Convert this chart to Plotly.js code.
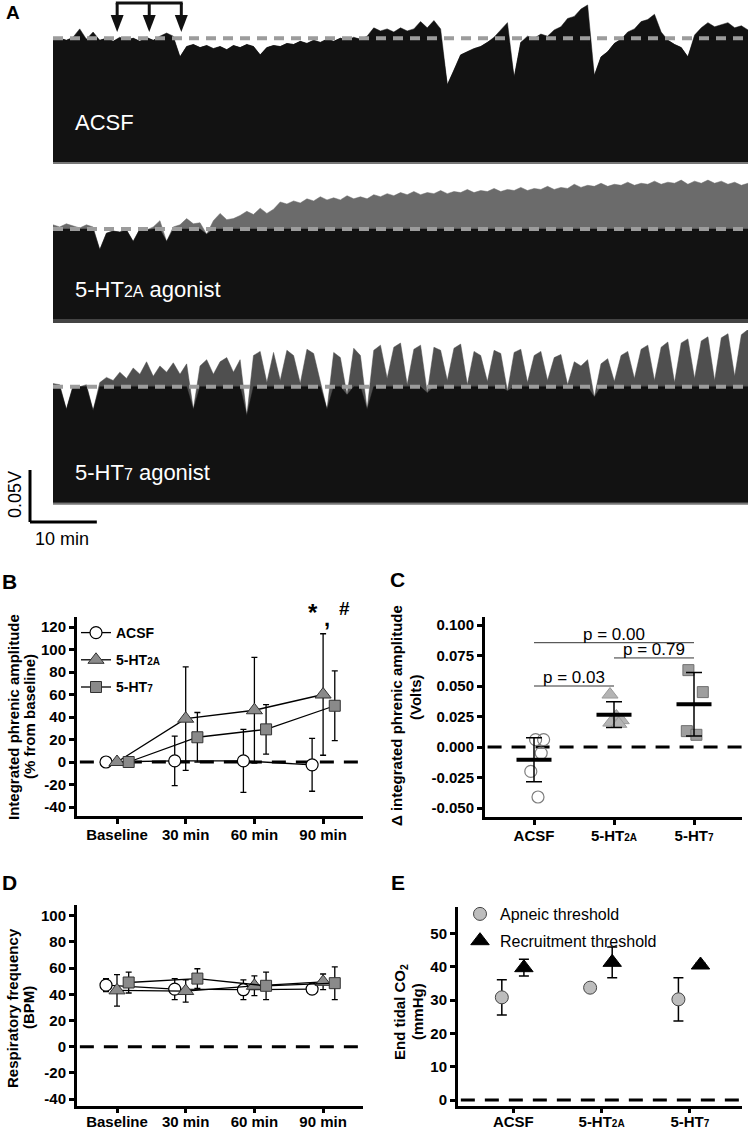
<!DOCTYPE html>
<html>
<head>
<meta charset="utf-8">
<script src="https://cdn.plot.ly/plotly-3.0.1.min.js"></script>
<style>
  body { margin: 0; background: #fff; }
  #fig { width: 750px; height: 1131px; }
</style>
</head>
<body>
<div id="fig"></div>
<script>
// ---------- panel A: integrated phrenic traces ----------
// upper envelope, mV above (+) or below (-) the dashed baseline, one sample per minute
var ACSF_DEV = [-1, 0, -2, 1, 9, -1, 6, -2, 0, -3, 1, -2, 0, -3, 1, -2, 2, 5, 2,
  -18, -8, -6, -9, -7, -10, -8, -11, -7, -9, -6, -8, -16,
  -9, -7, -8, -5, -6, -3, -5, -2, -4, -1, -3, 0, -2, 1, -1, 2, 10,
  7, 9, 6, 10, 7, 9, 16, 10, 17, 9,
  -45, -31, -16, -13, -10, -8, -4, 1, 8, 15,
  -38, -4, 2, 0, 4, 2, 8, 11, 19, 21, 28, 32,
  -36, -18, -13, -5, -1, 6, 9, 16, 18, 23, 6, -2, -6, -9, -18,
  3, 10, 15, 11, 13, 15, 10, 12, 8];
var HT2A_DEV = [4, 2, 5, 3, 1, 4, 2, -20, -4, -2, -3, -1, -12,
  0, -1, 2, 8, -12, 2, 4, 10, 5, 6, -5, 8,
  15, 9, 10, 13, 17, 14, 20, 15, 19, 26, 24, 27, 25, 29, 27, 31, 28, 30, 28, 32, 29, 31, 29, 33,
  31, 34, 32, 35, 33, 36, 33, 35, 34, 37, 34, 36, 35, 38, 35, 37, 36, 39, 36, 38,
  37, 40, 37, 39, 38, 41, 38, 40, 39, 43, 40, 42, 41, 44, 41, 43, 42, 45, 42, 44,
  43, 46, 43, 45, 44, 47, 43, 46, 44, 47, 44, 46, 43, 45, 42, 44];
var HT7_DEV = [3, 2, -22, 1, 0, 2, -23, 4, 9, 6, 14, 8, 18, 12, 24, 10, 20, 14, 23, 12,
  22, -22, 20, 26, 12, 24, 28, 14, 26, -28, 30, 34, 4, 33, 6, 35, 30, 3, 36, 32,
  5, -22, 33, 28, -8, 37, 30, -22, 35,
  40, 8, 38, 42, 2, 36, 40, -6, 38, 35, 6, 37, 41, 2, 34, 30, 5, 35, 32, -4,
  33, 36, 4, 30, 34, 6, 28, 31, 2, 24, 20, 26, -10, 22, 27, 5, 30, 34, 8, 36,
  40, 6, 38, 43, 4, 42, 46, 8, 44, 48, 6, 47, 51, 10, 50, 55];
var TRACE_BASE_MV = [119, 87.5, 111.5];      // dashed baseline height above trace floor
var TRACE_LABELS = ['ACSF', '5-HT<span style="font-size:16px">2A</span> agonist',
                    '5-HT<span style="font-size:16px">7</span> agonist'];
var INJECTIONS_MIN = [9.6, 14.4, 19.2];
var SCALE_MV = 50, SCALE_MIN = 10;

// ---------- panel B / D: time course ----------
var TIMEPOINTS = ['Baseline', '30 min', '60 min', '90 min'];
var B_ACSF = [0, 1, 1, -2.5],     B_ACSF_ERR = [0, 22, 28, 23.5];
var B_HT2A = [0, 38.5, 46, 60],   B_HT2A_ERR = [0, 46, 47, 54];
var B_HT7  = [0, 22, 29, 50],     B_HT7_ERR  = [0, 22, 22, 31];
var B_YTICKS = [-40, -20, 0, 20, 40, 60, 80, 100, 120];

var D_ACSF = [47, 44, 43.5, 44],  D_ACSF_ERR = [5, 8, 7.5, 4];
var D_HT2A = [43, 42.5, 46.5, 49.5], D_HT2A_ERR = [12, 8.5, 7.5, 6];
var D_HT7  = [49, 52, 46.5, 48.5], D_HT7_ERR = [8, 7.5, 10.5, 12.5];
var D_YTICKS = [-40, -20, 0, 20, 40, 60, 80, 100];

// ---------- panel C: individual animals ----------
var GROUPS = ['ACSF', '5-HT<span style="font-size:10px">2A</span>', '5-HT<span style="font-size:10px">7</span>'];
var C_ACSF = [0.006, 0.006, -0.005, -0.020, -0.041], C_ACSF_JIT = [0.02, 0.12, 0.09, -0.04, 0.05];
var C_HT2A = [0.043, 0.025, 0.022, 0.020, 0.019],    C_HT2A_JIT = [-0.05, 0.03, 0.09, -0.04, 0.06];
var C_HT7  = [0.063, 0.045, 0.013, 0.010],           C_HT7_JIT  = [-0.07, 0.11, -0.09, 0.03];
var C_MEAN = [-0.0105, 0.0265, 0.035];
var C_SD   = [0.018, 0.0105, 0.026];
var C_YTICKS = [-0.05, -0.025, 0, 0.025, 0.05, 0.075, 0.1];
var C_YTEXT  = ['-0.050', '-0.025', '0.000', '0.025', '0.050', '0.075', '0.100'];
var P_LABELS = ['p = 0.03', 'p = 0.00', 'p = 0.79'];
var P_PAIRS  = [[0, 1], [0, 2], [1, 2]];
var P_LEVEL  = [0.050, 0.0855, 0.073];

// ---------- panel E: CO2 thresholds ----------
var E_APNEIC = [30.8, 33.7, 30.2],  E_APNEIC_ERR = [5.3, 0.8, 6.5];
var E_RECRUIT = [39.7, 41.3, 40.5], E_RECRUIT_ERR = [2.5, 4.6, 0.5];
var E_YTICKS = [0, 10, 20, 30, 40, 50];

// ---------- helpers ----------
var W = 750, H = 1131;
var FONT = 'Liberation Sans, Arial, sans-serif';
function xd(l, r) { return [l / W, r / W]; }
function yd(t, b) { return [1 - b / H, 1 - t / H]; }
function xr(l, r, zero, k) { return [(l - zero) / k, (r - zero) / k]; }
function yr(t, b, zero, k) { return [(zero - b) / k, (zero - t) / k]; }
function yp(p) { return 1 - p / H; }

function ann(text, x, y, o) {
    return Object.assign({text: text, x: x / W, y: yp(y), xref: 'paper', yref: 'paper',
        showarrow: false, xanchor: 'center', yanchor: 'middle',
        font: {family: FONT, size: 15, color: '#000', weight: 'bold'}}, o || {});
}

function axis(o) {
    return Object.assign({showline: true, linecolor: '#000', linewidth: 3, ticks: 'outside',
        ticklen: 5, tickwidth: 3, tickcolor: '#000', showgrid: false, zeroline: false,
        fixedrange: true, tickfont: {family: FONT, size: 15, color: '#000', weight: 'bold'}}, o);
}

var traces = [];
var shapes = [];
var annotations = [];

// panel A
var aX = xr(0, 748, 53, 6.683);
var aFill = ['#121212', '#6b6b6b', '#4f4f4f'];
[ACSF_DEV, HT2A_DEV, HT7_DEV].forEach(function (dev, i) {
    var sfx = i === 0 ? '' : String(i + 1);
    var t = dev.map(function (_, j) { return j; });
    var base = TRACE_BASE_MV[i];
    traces.push({type: 'scatter', mode: 'lines', x: t, y: dev.map(function (d) { return base + d; }),
        fill: 'tozeroy', fillcolor: aFill[i], line: {width: 0.5, color: aFill[i]},
        xaxis: 'x' + sfx, yaxis: 'y' + sfx, showlegend: false, hoverinfo: 'skip'});
    traces.push({type: 'scatter', mode: 'lines', x: t, y: dev.map(function (d) { return base + Math.min(d, 0); }),
        fill: 'tozeroy', fillcolor: '#121212', line: {width: 0.5, color: '#121212'},
        xaxis: 'x' + sfx, yaxis: 'y' + sfx, showlegend: false, hoverinfo: 'skip'});
    shapes.push({type: 'line', xref: 'x' + sfx, yref: 'y' + sfx, x0: 0, x1: t.length - 1, y0: base, y1: base,
        line: {color: '#9c9c9c', width: 4, dash: '10px,7px'}});
    shapes.push({type: 'line', xref: 'x' + sfx, yref: 'y' + sfx, x0: 0, x1: t.length - 1, y0: -1, y1: -1,
        line: {color: i === 1 ? '#444' : '#777', width: i === 1 ? 4 : 2}});
    annotations.push(ann(TRACE_LABELS[i], 73, [123, 289, 472][i],
        {xanchor: 'left', font: {family: FONT, size: 22, color: '#fff'}}));
});

// injection arrows
shapes.push({type: 'line', xref: 'x', yref: 'paper', x0: INJECTIONS_MIN[0] - 0.2,
    x1: INJECTIONS_MIN[INJECTIONS_MIN.length - 1] + 0.2, y0: yp(3), y1: yp(3),
    line: {color: '#111', width: 3}});
INJECTIONS_MIN.forEach(function (m) {
    shapes.push({type: 'line', xref: 'x', yref: 'paper', x0: m, x1: m, y0: yp(3), y1: yp(17),
        line: {color: '#111', width: 3}});
    shapes.push({type: 'path', xref: 'x', yref: 'paper',
        path: 'M' + (m - 0.97) + ',' + yp(15) + ' L' + (m + 0.97) + ',' + yp(15) + ' L' + m + ',' + yp(32) + ' Z',
        fillcolor: '#111', line: {width: 0}});
});

// scale bar on the 5-HT7 trace axes
var sbX = (30 - 53) / 6.683, sbY = (502.7 - 522) / 1.04;
shapes.push({type: 'line', xref: 'x3', yref: 'y3', x0: sbX, x1: sbX, y0: sbY, y1: sbY + SCALE_MV,
    line: {color: '#000', width: 3}});
shapes.push({type: 'line', xref: 'x3', yref: 'y3', x0: sbX, x1: sbX + SCALE_MIN, y0: sbY, y1: sbY,
    line: {color: '#000', width: 3}});
annotations.push(ann('0.05V', 15, 495, {textangle: -90, font: {family: FONT, size: 18, color: '#000'}}));
annotations.push(ann('10 min', 62, 539, {font: {family: FONT, size: 18, color: '#000'}}));

// panels B and D
var MARK = {
    ACSF: {symbol: 'circle', size: 12, color: '#fff', line: {color: '#000', width: 1.2}},
    HT2A: {symbol: 'triangle-up', size: 14, color: '#8a8a8a', line: {color: '#333', width: 1}},
    HT7:  {symbol: 'square', size: 11, color: '#8a8a8a', line: {color: '#333', width: 1}}
};
var DODGE = {ACSF: -0.16, HT2A: 0, HT7: 0.17};
var NAMES = {ACSF: 'ACSF', HT2A: '5-HT<span style="font-size:10px">2A</span>',
             HT7: '5-HT<span style="font-size:10px">7</span>'};

function timeSeries(key, ys, errs, xa, ya, legend) {
    return {type: 'scatter', mode: 'lines+markers', name: NAMES[key], legendgroup: key,
        x: ys.map(function (_, i) { return i + DODGE[key]; }), y: ys, xaxis: xa, yaxis: ya,
        error_y: {type: 'data', array: errs, visible: true, color: '#000', thickness: 1.3, width: 3},
        line: {color: '#000', width: 1.3}, marker: MARK[key], showlegend: legend, cliponaxis: false};
}
traces.push(timeSeries('ACSF', B_ACSF, B_ACSF_ERR, 'x4', 'y4', true));
traces.push(timeSeries('HT2A', B_HT2A, B_HT2A_ERR, 'x4', 'y4', true));
traces.push(timeSeries('HT7', B_HT7, B_HT7_ERR, 'x4', 'y4', true));
traces.push(timeSeries('ACSF', D_ACSF, D_ACSF_ERR, 'x6', 'y6', false));
traces.push(timeSeries('HT2A', D_HT2A, D_HT2A_ERR, 'x6', 'y6', false));
traces.push(timeSeries('HT7', D_HT7, D_HT7_ERR, 'x6', 'y6', false));

// panel C
function scatterC(ys, jit, g, marker) {
    return {type: 'scatter', mode: 'markers', x: ys.map(function (_, i) { return g + jit[i]; }), y: ys,
        xaxis: 'x5', yaxis: 'y5', marker: marker, showlegend: false, cliponaxis: false};
}
traces.push(scatterC(C_ACSF, C_ACSF_JIT, 0, {symbol: 'circle-open', size: 12, color: '#7d7d7d', line: {width: 1.2}}));
traces.push(scatterC(C_HT2A, C_HT2A_JIT, 1, {symbol: 'triangle-up', size: 14, color: '#b4b4b4', line: {color: '#9a9a9a', width: 1}}));
traces.push(scatterC(C_HT7, C_HT7_JIT, 2, {symbol: 'square', size: 11, color: '#9e9e9e', line: {color: '#707070', width: 1}}));
traces.push({type: 'scatter', mode: 'markers', x: C_MEAN.map(function (_, i) { return i; }), y: C_MEAN,
    xaxis: 'x5', yaxis: 'y5', showlegend: false,
    error_y: {type: 'data', array: C_SD, visible: true, color: '#000', thickness: 1.5, width: 8},
    marker: {symbol: 'line-ew-open', size: 25, color: '#000', line: {width: 4, color: '#000'}}});
P_PAIRS.forEach(function (pr, i) {
    shapes.push({type: 'line', xref: 'x5', yref: 'y5', x0: pr[0], x1: pr[1], y0: P_LEVEL[i], y1: P_LEVEL[i],
        line: {color: '#333', width: 1}});
    annotations.push({text: P_LABELS[i], x: (pr[0] + pr[1]) / 2, y: P_LEVEL[i], xref: 'x5', yref: 'y5',
        showarrow: false, yanchor: 'bottom', yshift: -3, font: {family: FONT, size: 17, color: '#000'}});
});

// panel E
traces.push({type: 'scatter', mode: 'markers', name: 'Apneic threshold', legend: 'legend2', legendgroup: 'ap',
    x: E_APNEIC.map(function (_, i) { return i - 0.13; }), y: E_APNEIC, xaxis: 'x7', yaxis: 'y7',
    error_y: {type: 'data', array: E_APNEIC_ERR, visible: true, color: '#000', thickness: 1.5, width: 5},
    marker: {symbol: 'circle', size: 13, color: '#bdbdbd', line: {color: '#444', width: 1}}});
traces.push({type: 'scatter', mode: 'markers', name: 'Recruitment threshold', legend: 'legend2', legendgroup: 'rc',
    x: E_RECRUIT.map(function (_, i) { return i + 0.12; }), y: E_RECRUIT, xaxis: 'x7', yaxis: 'y7',
    error_y: {type: 'data', array: E_RECRUIT_ERR, visible: true, color: '#000', thickness: 1.5, width: 5},
    marker: {symbol: 'triangle-up', size: 16, color: '#000', line: {color: '#000', width: 1}}});

// dashed zero lines
[['x4', 'y4'], ['x5', 'y5'], ['x6', 'y6'], ['x7', 'y7']].forEach(function (p) {
    shapes.push({type: 'line', xref: p[0] + ' domain', yref: p[1], x0: 0.01, x1: 1, y0: 0, y1: 0,
        layer: 'below', line: {color: '#000', width: 3, dash: '14px,10px'}});
});

// panel letters and axis titles
annotations.push(ann('A', 13, 13, {font: {family: FONT, size: 19, color: '#000', weight: 'bold'}}));
annotations.push(ann('B', 9, 581, {font: {family: FONT, size: 21, color: '#000', weight: 'bold'}}));
annotations.push(ann('C', 397, 579, {font: {family: FONT, size: 21, color: '#000', weight: 'bold'}}));
annotations.push(ann('D', 9, 882, {font: {family: FONT, size: 21, color: '#000', weight: 'bold'}}));
annotations.push(ann('E', 398, 882, {font: {family: FONT, size: 21, color: '#000', weight: 'bold'}}));

annotations.push(ann('Integrated phrenic amplitude', 13, 717, {textangle: -90}));
annotations.push(ann('(% from baseline)', 29, 717, {textangle: -90}));
annotations.push(ann('Δ integrated phrenic amplitude', 396, 716, {textangle: -90}));
annotations.push(ann('(Volts)', 415, 697, {textangle: -90}));
annotations.push(ann('Respiratory frequency', 12, 1008, {textangle: -90}));
annotations.push(ann('(BPM)', 28, 1008, {textangle: -90}));
annotations.push(ann('End tidal CO<sub>2</sub>', 400, 1012, {textangle: -90}));
annotations.push(ann('(mmHg)', 417, 1012, {textangle: -90}));

annotations.push(ann('*', 313, 612, {font: {family: FONT, size: 24, color: '#000', weight: 'bold'}}));
annotations.push(ann(',', 327, 618, {font: {family: FONT, size: 22, color: '#000', weight: 'bold'}}));
annotations.push(ann('#', 344, 608, {font: {family: FONT, size: 19, color: '#000', weight: 'bold'}}));

var bX = xr(77, 363, 117, 68.7);
var xStand = -2;
var layout = {
    width: W, height: H, margin: {l: 0, r: 0, t: 0, b: 0},
    paper_bgcolor: '#fff', plot_bgcolor: 'rgba(0,0,0,0)', showlegend: true,
    xaxis:  {domain: xd(0, 748), range: aX, visible: false, anchor: 'y', fixedrange: true},
    yaxis:  {domain: yd(0, 170), range: yr(0, 170, 162, 1.04), visible: false, anchor: 'x', fixedrange: true},
    xaxis2: {domain: xd(0, 748), range: aX, visible: false, anchor: 'y2', fixedrange: true},
    yaxis2: {domain: yd(170, 330), range: yr(170, 330, 320, 1.04), visible: false, anchor: 'x2', fixedrange: true},
    xaxis3: {domain: xd(0, 748), range: aX, visible: false, anchor: 'y3', fixedrange: true},
    yaxis3: {domain: yd(330, 545), range: yr(330, 545, 502.7, 1.04), visible: false, anchor: 'x3', fixedrange: true},
    xaxis4: axis({domain: xd(77, 363), range: bX, anchor: 'y4', tickvals: [0, 1, 2, 3], ticktext: TIMEPOINTS,
        ticklabelstandoff: xStand}),
    yaxis4: axis({domain: yd(617, 816), range: yr(617, 816, 762, 1.125), anchor: 'x4',
        tickvals: B_YTICKS, ticktext: B_YTICKS.map(String)}),
    xaxis5: axis({domain: xd(485, 742), range: xr(485, 742, 534, 80), anchor: 'y5', tickvals: [0, 1, 2], ticktext: GROUPS,
        ticklabelstandoff: xStand}),
    yaxis5: axis({domain: yd(617, 817), range: yr(617, 817, 747, 1220), anchor: 'x5',
        tickvals: C_YTICKS, ticktext: C_YTEXT}),
    xaxis6: axis({domain: xd(77, 363), range: bX, anchor: 'y6', tickvals: [0, 1, 2, 3], ticktext: TIMEPOINTS,
        ticklabelstandoff: -4, ticklen: 4}),
    yaxis6: axis({domain: yd(905, 1106), range: yr(905, 1106, 1046.7, 1.31), anchor: 'x6',
        tickvals: D_YTICKS, ticktext: D_YTICKS.map(String)}),
    xaxis7: axis({domain: xd(458, 742), range: xr(458, 742, 513.3, 88.3), anchor: 'y7', tickvals: [0, 1, 2], ticktext: GROUPS,
        ticklabelstandoff: -4, ticklen: 4}),
    yaxis7: axis({domain: yd(907, 1106), range: yr(907, 1106, 1100, 3.333), anchor: 'x7',
        tickvals: E_YTICKS, ticktext: E_YTICKS.map(String)}),
    legend: {x: 76 / W, y: yp(617), xanchor: 'left', yanchor: 'top', bgcolor: 'rgba(0,0,0,0)',
        tracegroupgap: 6, font: {family: FONT, size: 14, color: '#000', weight: 'bold'}},
    legend2: {x: 460 / W, y: yp(897), xanchor: 'left', yanchor: 'top', bgcolor: 'rgba(0,0,0,0)',
        tracegroupgap: 3, font: {family: FONT, size: 16, color: '#000'}},
    shapes: shapes,
    annotations: annotations
};

Plotly.newPlot('fig', traces, layout, {displayModeBar: false, staticPlot: true});
</script>
</body>
</html>
